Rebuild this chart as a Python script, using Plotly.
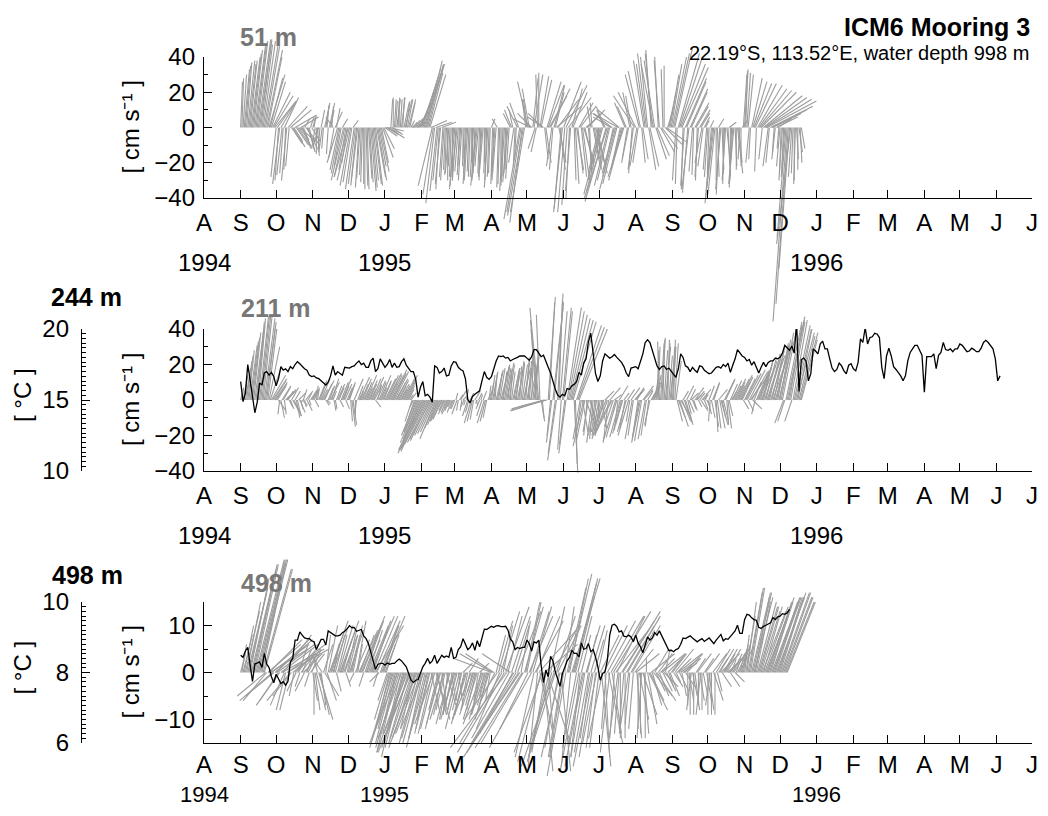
import datetime as dt
import plotly.graph_objects as go

# ---------------------------------------------------------------- data
AXIS_START = dt.date(1994, 8, 1)
AXIS_END = dt.date(1996, 7, 1)
STICK_FIRST_MONTH = dt.date(1994, 9, 1)   # stick data: one list per month, daily values
TEMP_START = dt.date(1994, 9, 1)          # temperature: every TEMP_STEP_DAYS days
TEMP_STEP_DAYS = 2

MONTH_LETTERS = ["A", "S", "O", "N", "D", "J", "F", "M", "A", "M", "J", "J",
                 "A", "S", "O", "N", "D", "J", "F", "M", "A", "M", "J", "J"]
YEAR_LABELS = ["1994", "1995", "1996"]
YEAR_DATES = [dt.date(1994, 8, 1), dt.date(1995, 1, 1), dt.date(1996, 1, 1)]

# ---- 51 m current, daily east (u) / north (v) components [cm/s], Sep 1994 .. Dec 1995
u51 = [
    [1, 1, 2, 3, 3, 3, 4, 4, 4, 5, 5, 5, 6, 6, 6, 7, 7, 6, 6, 7, 8, 8, 9, 8, 9, 7, 8, 10, 11, 12],
    [-3, 10, -2, -4, 9, -3, -2, 8, -1, -3, 11, -2, 12, 6, 7, 5, 12, 7, 8, 6, 9, 10, 5, 4, 3, 8, 6, 4, 3, 2, 5],
    [2, 1, -2, 0, 1, -3, -1, 2, -2, -1, 3, 2, 1, -1, 3, 2, 1, -4, -3, 4, 2, -6, -5, -5, -4, 3, -7, -6, -4, -3],
    [-8, -7, -6, -5, 3, -5, -4, -3, -4, -2, -2, -1, -1, 0, 0, 1, 1, 2, 2, 3, 3, 3, 4, 4, 5, 5, 4, 5, 4, 6, 6],
    [7, 8, 6, 9, 8, 1, 6, 0, 1, 1, 2, 1, 0, 1, 2, 1, 3, 4, 2, 3, 4, 3, 2, 3, 4, 3, 4, 5, 6, 7, 8],
    [10, 10, 11, 11, 9, 9, 8, 9, 9, -8, -6, -5, 9, -4, -3, -2, -3, 8, -2, -2, -1, -1, 0, -2, -1, -1, 0, -2],
    [-3, -2, -3, -2, -1, -2, -2, 0, -1, -1, -2, -2, -1, -1, 0, 0, -2, -1, -3, -3, -2, -1, -1, -2, -2, 0, -1, -1, -2, -1, -1],
    [2, -1, -1, -2, -2, -3, -1, -1, 0, 0, -2, -2, -1, -1, -3, -2, -4, -4, -2, -3, -1, -1, -6, -5, -9, -8, -7, -9, -8, -2],
    [-2, -6, -4, -10, -8, 3, 5, -4, -3, -1, 0, 5, 6, -8, -9, 2, 3, 8, 9, 10, 11, -3, -2, 6, 5, 14, 12, 4, 3, -4, -5],
    [10, -4, 12, -3, 13, -2, -3, 6, 8, 1, 2, 4, 3, 8, 9, 3, 4, 6, 5, 9, 10, 2, 1, -2, -1, 4, 3, 5, 6, 2],
    [-6, -7, -10, -9, -4, -5, -12, -13, -8, -7, -10, -11, -6, -7, -9, -8, -14, -12, -5, -6, -8, -9, -6, -5, -3, -4, -4, -3, -2, -3, -12],
    [-10, -4, -3, -8, -7, 2, 3, -6, -5, -5, -4, 4, 5, -3, -4, -7, -6, 6, 7, -2, -3, 8, 9, -1, 0, 10, 11, 3, 4, 5, 6],
    [8, 9, 10, -2, -1, 12, 13, 14, 15, -1, -2, 12, 11, -3, -4, 10, 9, -2, -1, 8, 7, -1, -2, 6, 5, -4, -3, 3, 2, -2],
    [-2, -1, 2, -3, -4, -5, -4, 0, 1, 3, -2, -3, 1, 0, -1, -2, 2, 1, 4, 0, -1, -2, -3, 1, 0, 3, 2, -1, 0, 3, 2],
    [2, 1, 2, 3, -2, -1, 6, 8, 10, 12, -1, 14, 16, 18, 20, -2, 22, 24, 26, 28, -3, -2, 24, 20, 16, -1, -2, 12, 8, -1],
    [-2, -1, -2, -1, -2, -5, -8, -7, -6, -8, -2, -1, 0, -1, 1, 0, 2, 1, 2],
]
v51 = [
    [26, 28, 30, 33, 35, 37, 38, 36, 38, 40, 42, 44, 46, 48, 49, 50, 50, 48, 47, 49, 48, 46, 44, 40, 30, 28, 26, 20, 18, 15],
    [-28, 14, -30, -32, 15, -27, -26, 17, -24, -30, 12, -22, 10, -9, -11, -8, 7, -10, -11, -7, -8, 6, -12, -10, 5, -10, -12, -14, -13, 6, -8],
    [7, 6, -12, -15, -16, -10, -13, 10, -14, -12, 14, 13, 12, -15, 14, 10, 12, 6, -17, 9, 11, -20, -24, -26, -22, 5, -30, -28, -24, -20],
    [-28, -30, -33, -31, 4, -35, -32, -30, -33, -34, -29, -27, -31, -32, -35, -33, -35, -29, -31, -36, -34, -30, -32, -33, -28, -30, -22, -25, -20, -17, -12],
    [-5, -3, -4, -6, -2, 16, -4, 17, 16, 15, 16, 17, 15, 16, 17, 17, 14, 16, 15, 16, 16, 14, 4, 3, 2, 4, 5, 3, 9, 14, 20],
    [30, 33, 35, 36, 38, 36, 31, 30, 4, -33, -38, -43, 3, -36, -30, -35, -32, 3, -28, -30, -24, -27, -30, -26, -22, -28, -30, -33],
    [-35, -30, -28, -25, -22, -27, -30, -18, -22, -26, -32, -30, -25, -28, -20, -24, -28, -26, -33, -30, -22, -26, -30, -28, -24, -20, -26, -30, -34, -28, -26],
    [5, -32, -30, -28, -26, 5, -34, -32, -30, -28, -36, -33, -26, -24, -31, -29, 8, 10, 10, -20, -22, -18, 12, 14, -52, -48, -54, -50, -48, 16],
    [16, 26, 22, 5, 8, 28, 30, -12, -14, 30, 31, 29, 27, 8, 6, -18, -20, 26, 24, 18, 22, -22, -24, 24, 20, 12, 16, -20, -24, -46, -48],
    [26, -48, 24, -44, 17, -40, -36, 22, 20, -30, -32, -24, -26, 14, 12, -28, -30, -20, -22, 8, 10, -26, -24, 12, 14, -22, -18, -20, -26, -24],
    [-25, -30, -38, -36, 10, 12, -42, -40, -33, -30, 6, 8, -28, -26, -35, -32, 8, 10, -22, -24, -30, -28, 14, 12, -18, -20, 20, 18, -26, -24, 18],
    [20, -22, -20, 30, 32, -20, -18, 38, 36, 42, 40, -24, -22, 44, 42, 36, 38, -18, -16, 40, 38, -14, -12, 33, 35, -10, -8, 10, 20, 30, 36],
    [40, 42, 45, -30, -32, 42, 40, 36, 34, -35, -33, 28, 26, -37, -35, 22, 20, -25, -27, 14, 12, -30, -28, 10, 8, -20, -22, 6, 4, -24],
    [-28, -26, 4, -36, -40, -43, -38, -30, -28, 5, -38, -35, -24, -26, -32, -30, -20, -22, 3, -28, -30, -34, -32, -22, -24, -26, -20, -18, -22, 4, 30],
    [33, 32, 31, 30, -20, -18, 28, 26, 25, 25, -25, 24, 22, 21, 20, -18, 18, 17, 16, 15, -22, -20, 12, 10, 8, -15, -18, 6, 5, -12],
    [-22, -26, -30, -24, -28, -62, -110, -100, -80, -66, -28, -26, -30, -32, -18, -24, -14, -20, -12],
]

# ---- 211 m current [cm/s]
u211 = [
    [1, 1, 2, 2, 3, 3, 3, 3, 4, 4, 4, 4, 5, 5, 4, 4, 5, 5, 5, 5, 6, 6, 5, 5, 6, 6, 8, 8, 7, 7],
    [6, 5, 4, -1, 2, 5, 4, 1, 6, 5, 3, 2, 2, 4, 5, 4, 3, 2, 2, 4, 3, 1, 3, 2, 1, 4, 3, 2, 1, 4, 3],
    [3, 3, 2, 1, 1, 4, 4, 5, 3, 6, 4, 2, 2, 3, 3, 5, 4, 2, 1, 1, 3, 4, 3, 2, 4, 5, 3, 4, 2, 3],
    [4, 3, 1, 2, 2, 5, 0, -1, 3, 6, 2, 4, 5, 3, 4, 6, 3, 5, 4, 3, 5, 6, 4, 3, 5, 2, 4, 6, 3, 5, 4],
    [6, 7, 8, 5, 7, 9, 8, 6, 8, 7, 5, 6, 4, 5, 3, 4, 6, 7, 5, 4, 3, 2, 3, -4, -2, -6, -8, -7, -10, -9, -12],
    [-12, -14, -13, -15, -14, -13, -12, -11, -12, -10, -9, -8, -9, -7, -6, -5, -6, -5, -7, -3, -4, -3, -2, -4, -3, -2, -3, -2],
    [-2, 1, -3, -1, 2, 3, -1, 2, -2, -1, 1, -3, -2, 2, -4, -3, -2, 3, 1, -1, 2, -2, 1, -3, 2, -4, -3, -2, 3, 1, 2],
    [2, 3, 2, 1, 4, 3, 2, 3, 5, 4, 2, 3, 3, 4, 2, 3, 1, 2, 4, 3, 3, 2, 4, 3, 1, 2, 3, 4, 3, 2],
    [3, 2, 2, 4, 1, 3, 3, 2, -3, -4, -5, -2, 2, 1, -18, -19, -20, -16, 4, 3, -2, -3, 6, 5, -4, -5, 3, 2, 4, -2, 5],
    [5, -3, -4, 8, 9, 10, 11, 12, 13, 2, 1, 14, 15, 16, -4, -3, 3, -6, -5, 5, -2, -3, 4, 3, -3, -2, 2, -4, -3, 1],
    [-4, -3, 3, -6, -5, 5, -8, -7, -3, 6, -10, -9, -5, 4, -7, -6, -2, 5, -6, -5, -4, 3, -3, -5, 4, -6, -2, 5, -4, -3, 5],
    [5, 4, -3, -4, -5, -4, 6, 5, -4, -3, 3, -2, -3, 4, 5, 4, 2, 3, 1, 1, -1, 2, 2, 1, 2, 3, 2, 1, 2, 3, 2],
    [2, 1, 2, 3, 3, 4, 5, 6, 5, 3, 5, 4, 4, 2, 3, 3, 4, 2, 2, 5, 3, 4, 2, 3, 4, 5, 3, 2, 1, 2],
    [2, 3, -1, 2, 4, 3, 2, 1, 2, 5, 3, 4, 2, 3, 6, 5, 1, 2, 2, 4, 3, 5, 4, 6, 5, 4, 6, 7, 5, 6, 3],
    [6, 7, 8, 3, 9, 10, 9, 5, 4, -2, 7, 8, 6, 7, 8, 6, 5, 7, 6, 8, 7, 6, 8, 7, 9, 6, 8, 7, 6, 8],
    [6, 7, 8, -5, -4, 9, 10, 9, 7, 8, -4, 8, 9, 9, 10, 8, 9, 10, 9],
]
v211 = [
    [4, 7, 10, 14, 18, 22, 25, 28, 31, 33, 35, 38, 40, 42, 44, 46, 47, 48, 48, 47, 46, 44, 42, 40, 30, 18, 14, 12, 11, 10],
    [9, 8, -6, -8, -10, 8, 7, -8, 6, 5, 5, -4, -5, 7, -9, -8, 5, -10, -9, 4, -7, -5, -3, 6, -4, 5, -6, 4, -3, 6, 5],
    [5, 6, -4, 8, 7, 10, 11, 12, 6, 11, 9, -3, -2, 7, 8, 10, 12, 5, -6, -5, 8, 9, 7, -4, 10, 12, 8, 9, -5, 7],
    [10, 9, -12, -15, -14, 12, -10, -8, 8, 13, 5, 9, 12, 6, 10, 14, 7, 11, 9, 6, 12, 13, 8, -4, 11, 9, 10, 14, 7, 11, 10],
    [12, 14, 15, 10, 14, 17, 15, 13, 16, 12, 10, 11, 8, 9, 6, 8, 12, 14, 10, 8, 6, 3, 4, -12, -4, -18, -20, -18, -24, -22, -28],
    [-28, -30, -29, -28, -27, -25, -24, -23, -22, -20, -19, -18, -22, -16, -14, -10, -12, -11, -12, -6, -8, -7, -5, -8, -6, -4, -7, -5],
    [-5, 4, -8, -6, 3, 5, -6, 2, -4, -3, 6, -9, -7, 4, -13, -12, -11, 5, -3, -2, 4, -5, 3, -9, 5, -13, -12, -10, 6, 8, 10],
    [14, 16, 15, 12, 17, 16, 15, 18, 20, 19, 16, 19, 18, 21, 17, 20, 15, 16, 18, 17, 16, 18, 20, 22, 19, 21, 20, 18, 22, 24],
    [18, 22, 24, 20, 25, 24, 26, 28, 40, 45, 52, 48, -12, -10, -5, -6, -6, -4, 58, 55, -20, -24, 55, 52, -30, -34, 60, 56, 50, -28, 52],
    [50, -25, -30, 52, 50, 48, 46, 45, 44, -41, -36, 42, 41, 40, -22, -20, -18, -26, -24, -15, -20, -18, -13, -14, -24, -22, -12, -20, -18, -10],
    [-20, -18, -16, -22, -20, 5, -18, -20, -24, 7, -20, -18, -15, 3, -23, -21, -17, 8, -21, -19, -14, 4, -16, -18, 6, -20, -12, 7, -22, -20, 6],
    [6, 7, -20, -22, -24, -23, 8, 6, -22, -20, 5, -15, -14, 7, 10, 8, 12, 14, 28, 30, 33, 32, 35, 34, 28, 30, 32, 34, 25, 28, 30],
    [30, 34, 32, 22, -12, -10, -15, -10, -12, 5, -14, -13, 8, -8, -7, 6, 4, -5, -6, 7, 3, 5, -4, 4, -6, 6, 3, -5, 4, -4],
    [-8, 8, -12, -10, 10, 9, -15, -18, -16, 6, -16, -14, -10, -12, 12, 11, -14, -16, -9, 9, 5, 11, 8, 12, 10, 8, 12, 14, 10, 13, -5],
    [12, 14, 15, -6, 17, 14, 16, -5, 10, -8, 16, 18, 17, 20, 19, 22, 21, 22, 24, 25, 23, 26, 25, 28, 27, 30, 29, 31, 32, 33],
    [34, 38, 40, -13, -12, 44, 47, 45, 42, 44, -12, 45, 42, 40, 38, 40, 36, 38, 34],
]

# ---- 498 m current [cm/s]
u498 = [
    [1, 1, 2, 2, 3, 3, 4, 4, 4, 5, 5, 5, 5, 6, 6, 6, 6, 5, 5, 6, 6, -6, -5, 7, 7, 8, 8, -7, -6, 8],
    [7, 8, -4, -5, 8, 9, 6, -3, -2, 9, 8, -2, -5, -4, 5, -1, 3, -2, 4, 2, -1, 3, 2, 4, -2, 3, 1, 2, -1, 3, 2],
    [1, 0, 1, 2, -1, 3, 2, 1, -2, 2, 3, 1, 2, 2, 4, 3, 2, 3, 1, 2, 1, 2, 3, 4, 3, 2, 3, 2, 1, 2],
    [2, 3, 2, 1, 2, -1, 3, 2, 1, 4, 3, 5, 4, -1, 4, 3, 2, 3, 4, 5, 4, 3, 5, 6, 5, -1, -2, 4, 5, 3, 3],
    [3, 2, -2, -3, -3, -4, -3, -5, -4, -4, -3, -6, -5, -4, -5, -3, -4, -6, -5, -5, -4, -6, -7, -5, -4, -3, -5, -6, -4, -5, -4],
    [-4, -3, -5, -4, -2, -4, -3, -3, 2, -3, -4, -3, 3, 2, -2, -3, -3, 1, -2, -3, -2, 2, -1, -2, -3, 1, -2, -2],
    [-3, -2, -2, 1, -3, -1, -2, 2, -2, -3, -3, -1, 2, -2, -4, -1, -3, -2, -2, -3, -1, 2, -2, -4, -3, -1, -3, -2, -2, -3, -1],
    [-8, -7, -6, -3, 2, -7, 3, -5, 4, -9, 2, -10, 5, -12, 3, -8, -6, 4, -7, -9, 3, -10, 5, -11, -12, 2, -10, -9, 4, 3],
    [3, -6, 5, 4, -9, 4, -4, 6, 5, -2, 8, 3, -5, -6, 2, 7, -3, 5, 1, -4, 3, -5, 6, -7, -6, 4, 5, -3, -4, 2, -3],
    [-3, 2, -4, 4, 5, 4, -2, 6, 5, 5, 4, -3, 3, -4, -2, 2, -3, -4, -3, 3, 2, -3, -2, 3, -4, -3, 2, -2, -3, 2],
    [-2, 4, 2, -3, 5, 1, -1, 6, 3, -2, 7, 2, 8, -1, 7, 6, -2, -1, 0, 7, 8, -1, 0, 6, 7, -2, -1, 5, 6, -1, 4],
    [5, 1, 0, 2, 0, -1, 3, 1, 0, 0, 2, 4, 3, 5, 2, 4, 3, 2, 4, 3, 2, 3, 5, 2, 3, 1, 2, 3, 1, 2, 3],
    [3, 2, 4, 1, 3, 5, 2, 4, 1, 3, 4, 2, 3, 0, 1, 0, -1, 1, 0, 1, 2, 3, 0, 1, -1, 0, 1, 2, 3, 1],
    [0, 1, -1, 0, 3, 2, 0, 3, 1, 2, 3, 4, 2, 3, 1, 2, 3, 4, 3, 2, 1, 2, 3, 2, 1, 2, 3, 1, 2, 1, 1],
    [1, 2, 2, 3, 3, 3, 4, 4, 4, 3, 3, 4, 4, 4, 4, 5, 4, 5, 5, 5, 5, 5, 5, 6, 6, 5, 5, 6, 6, 5],
    [5, 6, 6, 6, 6, 6, 6],
]
v498 = [
    [4, 6, 8, 10, 13, 15, 17, 18, 20, 21, 22, 23, 23, 24, 24, 24, 24, 23, 23, 22, 22, -5, -6, 6, 7, 5, 6, -6, -5, 7],
    [7, 6, -6, -7, 6, 5, 8, -7, -8, 5, 6, -8, -6, -5, 4, -5, 3, -4, 5, 6, -3, 4, 5, 4, -4, 5, 3, 4, -3, 4, 5],
    [-6, -9, -8, -8, 4, -10, -9, -7, 3, 6, -5, 8, -6, 10, 11, 9, 7, 9, 6, 8, -4, 8, 10, 11, 9, 7, 8, 6, -3, 9],
    [8, 9, 8, 5, 10, -2, 7, 11, 6, 9, 8, 12, 10, -3, 11, 7, 8, 9, 10, 12, 11, 9, 12, 10, 11, -3, -2, 10, 12, 8, 10],
    [8, 6, -6, -10, -12, -14, -12, -16, -15, -17, -13, -15, -16, -18, -14, -12, -16, -17, -15, -13, -14, -16, -17, -15, -13, -12, -14, -16, -15, -13, -14],
    [-15, -14, -12, -16, -10, -14, -13, -12, -9, -13, -11, -12, -10, -9, -8, -12, -11, -7, -9, -10, -8, -7, -9, -10, -11, -6, -9, -8],
    [-10, -9, -8, -7, -12, -6, -8, 2, -9, -11, -10, -5, 3, -8, -10, -4, -9, -7, -8, -10, -6, 2, -9, -11, -10, -5, -9, -7, -8, -10, -6],
    [3, 4, 4, -6, 8, -10, 11, -12, 13, -15, 10, -17, 14, -16, 12, -14, 4, 12, -13, -15, 10, -16, 13, -17, -18, 11, -16, -15, 14, 15],
    [15, -12, 12, 13, -16, 14, -18, 11, 12, -20, 9, -14, -19, -17, -21, 6, -17, -15, -12, -16, 14, -18, 11, -20, -19, 12, 10, -16, -18, -21, -18],
    [-18, 14, -22, 18, 21, 20, -20, 20, 19, 20, 16, -16, 12, -21, -18, 8, -15, -20, -18, 10, 8, -17, -14, 10, -20, -18, 7, -16, -15, 9],
    [-16, 8, -20, -14, 10, -18, -12, 11, -15, -17, 12, -13, 13, -14, 9, 12, -15, -13, -14, 11, 13, -12, -14, 10, 12, -13, -11, 9, 10, -12, 5],
    [4, -14, -12, -10, -13, -14, -9, -13, -14, 3, -11, -8, -6, 4, -7, -5, 5, -4, -6, 4, -5, 3, 4, -4, -3, 5, -4, 3, -3, -5, 4],
    [4, -3, 5, -2, 3, 4, -4, 3, -5, 2, 4, -3, 3, -7, -6, -9, -8, -5, -9, -8, 3, 4, -7, -6, -9, -8, -5, 3, 4, -6],
    [-9, -8, -7, -9, 4, -6, -9, 5, -4, 3, 5, 4, -3, 5, 2, 4, 5, 4, 3, -3, 3, 4, 5, -2, 3, 4, 5, 4, 6, 5, 6],
    [8, 12, 15, 17, 18, 18, 17, 17, 16, 16, 15, 15, 14, 14, 13, 13, 14, 14, 13, 14, 15, 15, 16, 16, 16, 15, 15, 16, 17, 16],
    [16, 17, 17, 16, 16, 15, 15],
]

# ---- temperature [deg C], every 2 days from 1 Sep 1994
temp244 = [16.29, 14.88, 15.5, 17.5, 16.4, 15.3, 14.1, 14.85, 16.2, 16.05,
           16.9, 17.0, 16.75, 16.95, 16.65, 16.0, 16.5, 17.35, 17.1, 17.2,
           17.0, 17.35, 17.2, 17.5, 17.7, 17.55, 17.35, 17.2, 17.1, 16.75,
           16.65, 16.7, 16.55, 16.5, 16.35, 16.2, 16.05, 16.25, 16.7, 17.4,
           16.75, 17.0, 16.85, 16.75, 17.3, 17.25, 17.25, 17.35, 17.4, 17.6,
           17.75, 17.5, 17.6, 17.3, 17.3, 17.75, 17.95, 17.0, 17.2, 17.9,
           17.55, 17.3, 17.5, 17.85, 17.3, 17.6, 17.3, 17.35, 17.7, 17.9,
           17.45, 17.25, 17.0, 17.0, 16.45, 15.2, 15.9, 16.3, 15.3, 15.4,
           15.2, 14.85, 17.4, 17.3, 16.9, 17.0, 17.25, 16.7, 16.75, 17.4,
           17.7, 17.65, 17.3, 17.15, 17.05, 16.5, 15.05, 14.8, 15.25, 15.4,
           15.55, 15.65, 16.35, 17.0, 16.6, 16.45, 16.65, 17.25, 17.75, 18.1,
           18.05, 18.1, 17.95, 18.0, 17.75, 17.85, 17.9, 18.0, 18.1, 18.1,
           18.1, 17.95, 17.8, 18.05, 18.55, 18.55, 18.25, 18.05, 18.15, 17.65,
           17.3, 16.9, 16.3, 15.75, 15.35, 15.2, 15.4, 15.3, 15.8, 15.75,
           16.0, 16.1, 16.3, 16.95, 16.75, 17.6, 17.9, 19.1, 19.7, 18.45,
           16.85, 16.3, 16.7, 17.75, 18.25, 18.1, 17.95, 18.05, 18.2, 18.0,
           17.8, 17.65, 17.35, 16.9, 16.65, 17.25, 17.3, 17.35, 17.2, 17.7,
           18.25, 19.05, 19.25, 19.05, 18.45, 18.0, 17.4, 17.15, 17.35, 17.4,
           17.15, 17.25, 17.0, 16.8, 16.6, 17.2, 18.25, 18.0, 17.4, 17.3,
           17.0, 17.3, 17.1, 16.95, 17.4, 17.35, 17.1, 17.0, 16.85, 16.9,
           17.1, 17.3, 17.35, 17.25, 17.5, 17.35, 17.6, 16.95, 17.45, 17.9,
           18.55, 18.3, 18.1, 18.0, 17.75, 17.85, 17.45, 17.7, 17.3, 16.9,
           17.3, 17.65, 17.35, 17.65, 17.75, 17.75, 17.95, 17.9, 18.0, 18.3,
           18.85, 18.7, 18.5, 18.8, 18.3, 20.45, 15.6, 17.85, 17.95, 17.75,
           16.35, 16.85, 18.6, 18.45, 18.25, 18.95, 19.15, 18.6, 18.6, 17.9,
           17.25, 17.0, 17.15, 17.6, 17.4, 17.05, 16.85, 17.45, 17.55, 17.2,
           17.05, 17.65, 19.3, 19.05, 20.1, 18.95, 19.4, 19.45, 19.7, 19.65,
           19.4, 17.3, 16.5, 18.1, 18.65, 18.1, 17.35, 17.15, 16.95, 16.7,
           16.35, 16.7, 17.75, 18.35, 18.6, 18.85, 18.85, 18.5, 18.15, 15.55,
           18.05, 18.05, 18.05, 18.25, 17.2, 18.15, 18.35, 19.05, 18.55, 18.5,
           18.6, 18.4, 18.6, 18.6, 18.95, 18.85, 18.65, 18.4, 18.45, 18.65,
           18.55, 18.4, 18.4, 18.65, 19.05, 19.2, 19.05, 18.8, 18.6, 17.9,
           16.35, 16.7]
temp498 = [8.49, 8.43, 8.61, 8.71, 8.21, 7.75, 8.24, 8.26, 8.30, 8.14,
           8.54, 8.24, 8.14, 7.88, 7.71, 7.95, 7.83, 7.69, 7.74, 7.64,
           7.75, 8.30, 8.40, 8.92, 8.92, 9.15, 9.06, 8.98, 8.96, 8.96,
           8.90, 8.87, 8.65, 8.78, 8.94, 8.94, 8.78, 9.18, 9.13, 9.09,
           9.04, 9.04, 9.06, 9.13, 9.17, 9.24, 9.33, 9.27, 9.28, 9.17,
           9.20, 9.22, 9.04, 8.96, 8.82, 8.57, 8.27, 8.09, 8.23, 8.26,
           8.26, 8.21, 8.27, 8.23, 8.26, 8.26, 8.33, 8.38, 8.33, 8.26,
           8.16, 7.97, 7.78, 7.72, 7.78, 7.80, 7.99, 8.16, 8.26, 8.40,
           8.26, 8.33, 8.49, 8.26, 8.37, 8.49, 8.43, 8.47, 8.43, 8.71,
           8.40, 8.43, 8.65, 8.73, 8.96, 8.82, 8.65, 8.71, 8.84, 8.63,
           8.90, 8.73, 8.96, 9.23, 9.22, 9.26, 9.31, 9.28, 9.32, 9.33,
           9.30, 9.30, 9.31, 9.20, 8.95, 8.87, 8.65, 8.71, 8.68, 8.71,
           8.71, 8.92, 8.82, 8.61, 8.87, 8.84, 8.92, 8.21, 7.71, 8.07,
           7.88, 8.46, 8.33, 8.02, 7.83, 7.61, 7.97, 8.14, 8.33, 8.43,
           8.63, 8.54, 8.54, 8.44, 8.84, 8.66, 8.68, 8.82, 8.59, 8.65,
           8.44, 8.16, 7.78, 7.97, 8.02, 8.35, 9.06, 9.34, 9.37, 9.30,
           9.15, 9.18, 9.03, 9.01, 9.06, 9.01, 8.87, 9.06, 8.84, 8.73,
           8.56, 8.78, 9.01, 8.92, 8.98, 9.13, 9.06, 9.18, 9.04, 8.90,
           8.75, 8.62, 8.63, 8.59, 8.65, 8.68, 8.80, 8.98, 8.96, 9.01,
           9.04, 8.98, 8.92, 8.87, 8.92, 8.96, 8.88, 8.92, 8.98, 8.90,
           8.82, 8.92, 9.01, 9.08, 8.90, 8.96, 8.94, 9.01, 9.08, 9.18,
           9.34, 9.11, 9.11, 9.50, 9.65, 9.63, 9.55, 9.50, 9.48, 9.28,
           9.25, 9.31, 9.34, 9.37, 9.41, 9.56, 9.50, 9.58, 9.60, 9.67,
           9.65, 9.69, 9.79]

# ---------------------------------------------------------------- geometry (page pixels)
PAGE_W, PAGE_H = 1048, 816
BODY_MARGIN = 8                      # browser default body margin around the figure
W, H = PAGE_W - 2 * BODY_MARGIN, PAGE_H - 2 * BODY_MARGIN
PLOT_L, PLOT_R = 204, 1032
T_AXIS_X = 81
PANEL_TOP = [57, 329, 602]
PANEL_BOT = [198, 471, 743]
YEAR_Y = [262, 535, 794]
YEAR_SIZE = [24, 24, 22]
MONTH_STANDOFF = [3, 3, 0]
VEL_RANGE = [[-40, 40], [-40, 40], [-15, 15]]
VEL_TICKS = [[-40, -20, 0, 20, 40], [-40, -20, 0, 20, 40], [-10, 0, 10]]
VEL_MINOR = [10, 10, 5]
T_RANGE = [None, [10, 20], [6, 10]]
T_TICKS = [None, [10, 15, 20], [6, 8, 10]]
T_MINOR = [None, 1 / 3, 2 / 15]

FONT = "Liberation Sans, Arial, Helvetica, sans-serif"
STICK_COLOR = "#9c9c9c"
LABEL_GRAY = "#777777"
TICK_SIZE = 24
VEL_UNIT = "[ cm s\u207b\u00b9 ]"


def fx(p):
    return (p - BODY_MARGIN) / W


def fy(p):
    return 1 - (p - BODY_MARGIN) / H


def day(d):
    return (d - AXIS_START).days


def add_month(d):
    return dt.date(d.year + (d.month // 12), d.month % 12 + 1, 1)


SPAN = day(AXIS_END)
X_RANGE = [0, SPAN]
XDOM = [fx(PLOT_L), fx(PLOT_R)]


def ydom(i):
    return [fy(PANEL_BOT[i]), fy(PANEL_TOP[i])]


def full_range(dom, rng):
    s = (rng[1] - rng[0]) / (dom[1] - dom[0])
    return [rng[0] - dom[0] * s, rng[1] + (1 - dom[1]) * s]


def temp_days(n):
    s = day(TEMP_START)
    return [s + TEMP_STEP_DAYS * i for i in range(n)]


# month ticks
month_days = []
m = AXIS_START
while m <= AXIS_END:
    month_days.append(day(m))
    m = add_month(m)

fig = go.Figure()
layout = dict(width=W, height=H, margin=dict(l=0, r=0, t=0, b=0), autosize=False,
              paper_bgcolor="white", plot_bgcolor="rgba(0,0,0,0)", showlegend=False,
              font=dict(family=FONT, size=TICK_SIZE, color="black"))

currents = [(u51, v51), (u211, v211), (u498, v498)]

# --- stick plots on hidden full-page axes (so long sticks are not clipped)
for i, (u_months, v_months) in enumerate(currents):
    n = i + 1
    sfx = "" if n == 1 else str(n)
    layout["xaxis" + sfx] = dict(domain=[0, 1], range=full_range(XDOM, X_RANGE),
                                 visible=False, anchor="y" + sfx, fixedrange=True)
    layout["yaxis" + sfx] = dict(domain=[0, 1], range=full_range(ydom(i), VEL_RANGE[i]),
                                 visible=False, anchor="x" + sfx, fixedrange=True)
    px_per_day = (PLOT_R - PLOT_L) / SPAN
    px_per_unit = (PANEL_BOT[i] - PANEL_TOP[i]) / (VEL_RANGE[i][1] - VEL_RANGE[i][0])
    k = px_per_unit / px_per_day        # days of x per cm/s, keeps stick directions true
    xs, ys = [], []
    month = STICK_FIRST_MONTH
    for um, vm in zip(u_months, v_months):
        d0 = day(month)
        for j, (uu, vv) in enumerate(zip(um, vm)):
            t = d0 + j
            xs += [t, t + uu * k, None]
            ys += [0, vv, None]
        month = add_month(month)
    fig.add_trace(go.Scatter(x=xs, y=ys, mode="lines",
                             line=dict(color=STICK_COLOR, width=1.1),
                             xaxis="x" + sfx, yaxis="y" + sfx, hoverinfo="skip"))

# --- visible axes
axis_common = dict(showline=True, linecolor="black", linewidth=1.3, ticks="inside",
                   tickcolor="black", tickwidth=1.3, ticklen=8, showgrid=False,
                   zeroline=False, automargin=False, fixedrange=True,
                   tickfont=dict(family=FONT, size=TICK_SIZE, color="black"))

vis = [("x4", "y4", None), ("x5", "y5", "y6"), ("x6", "y7", "y8")]
temps = [None, temp244, temp498]
for i, (xn, yn, tn) in enumerate(vis):
    layout["xaxis" + xn[1:]] = dict(axis_common, domain=XDOM, range=X_RANGE, anchor=yn,
                                    tickmode="array", tickvals=month_days,
                                    ticktext=MONTH_LETTERS,
                                    ticklabelstandoff=MONTH_STANDOFF[i])
    layout["yaxis" + yn[1:]] = dict(axis_common, domain=ydom(i), range=VEL_RANGE[i],
                                    anchor=xn, tickmode="array", tickvals=VEL_TICKS[i],
                                    ticklabelstandoff=3,
                                    minor=dict(ticks="inside", ticklen=4, tickwidth=1.3,
                                               tickcolor="black", dtick=VEL_MINOR[i],
                                               tick0=0))
    fig.add_trace(go.Scatter(x=[], y=[], xaxis=xn, yaxis=yn, hoverinfo="skip"))
    if tn:
        layout["yaxis" + tn[1:]] = dict(axis_common, range=T_RANGE[i], overlaying=yn,
                                        anchor="free", position=fx(T_AXIS_X), side="left",
                                        tickmode="array", tickvals=T_TICKS[i],
                                        ticklabelstandoff=7,
                                        minor=dict(ticks="inside", ticklen=4, tickwidth=1.3,
                                                   tickcolor="black", dtick=T_MINOR[i],
                                                   tick0=T_RANGE[i][0]))
        tv = temps[i]
        fig.add_trace(go.Scatter(x=temp_days(len(tv)), y=tv, mode="lines",
                                 line=dict(color="black", width=1.3),
                                 xaxis=xn, yaxis=tn, hoverinfo="skip"))

# --- annotations
ann = []
for i in range(3):
    xn = vis[i][0]
    for lab, d in zip(YEAR_LABELS, YEAR_DATES):
        ann.append(dict(text=lab, x=day(d), xref=xn, y=fy(YEAR_Y[i]), yref="paper",
                        xanchor="center", yanchor="middle", showarrow=False,
                        font=dict(size=YEAR_SIZE[i])))
    mid = (PANEL_TOP[i] + PANEL_BOT[i]) / 2
    ann.append(dict(text=VEL_UNIT, x=fx(130), xref="paper", y=fy(mid),
                    yref="paper", textangle=-90, showarrow=False, xanchor="center",
                    yanchor="middle", font=dict(size=TICK_SIZE)))
    if i > 0:
        ann.append(dict(text="[ °C ]", x=fx(22), xref="paper", y=fy(mid - 5), yref="paper",
                        textangle=-90, showarrow=False, xanchor="center", yanchor="middle",
                        font=dict(size=TICK_SIZE)))

depth_labels = [("51 m", 268, 37, LABEL_GRAY), ("244 m", 86, 297, "black"),
                ("211 m", 276, 308, LABEL_GRAY), ("498 m", 87, 575, "black"),
                ("498 m", 276, 583, LABEL_GRAY)]
for txt, xp, yp, col in depth_labels:
    ann.append(dict(text=txt, x=fx(xp), xref="paper", y=fy(yp), yref="paper",
                    xanchor="center", yanchor="middle", showarrow=False,
                    font=dict(size=25, color=col, weight="bold")))

ann.append(dict(text="ICM6 Mooring 3", x=fx(1032), xref="paper", y=fy(27),
                yref="paper", xanchor="right", yanchor="middle", showarrow=False,
                font=dict(size=25, weight="bold")))
ann.append(dict(text="22.19°S, 113.52°E, water depth 998 m", x=fx(1031), xref="paper",
                y=fy(53), yref="paper", xanchor="right", yanchor="middle", showarrow=False,
                font=dict(size=20)))
layout["annotations"] = ann

fig.update_layout(**layout)
fig.write_html("out.html")
